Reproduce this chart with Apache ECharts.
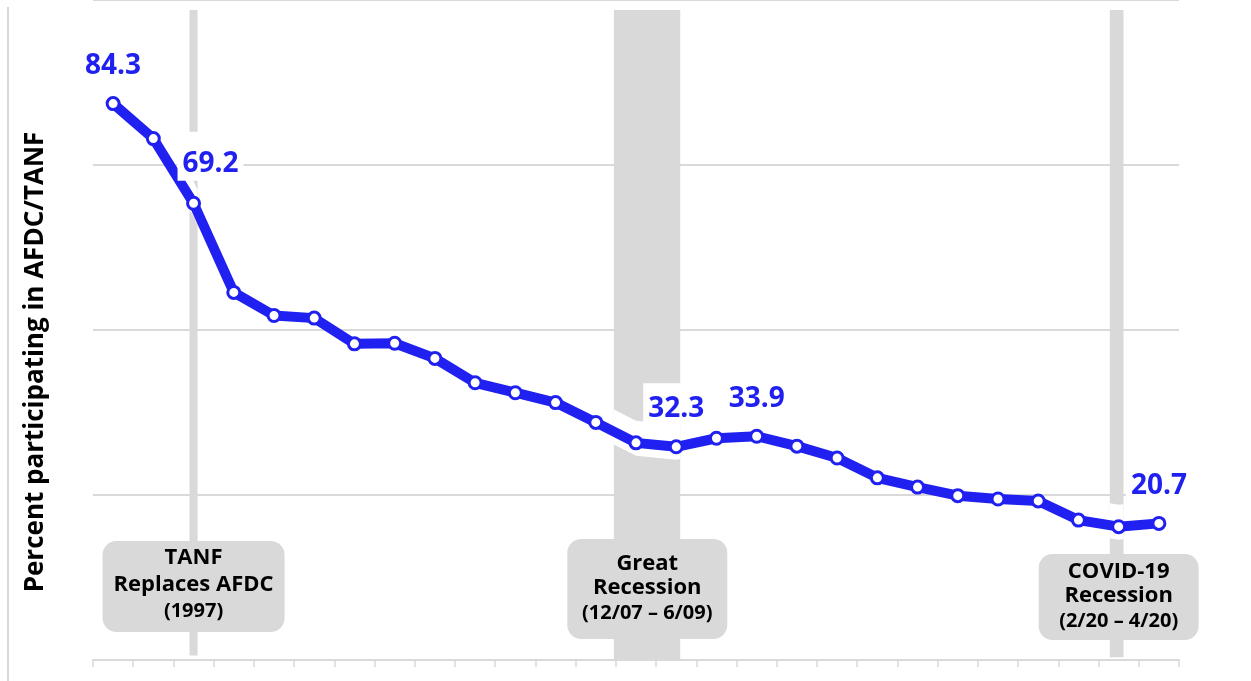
<!DOCTYPE html>
<html>
<head>
<meta charset="utf-8">
<script src="https://cdn.jsdelivr.net/npm/echarts@6/dist/echarts.min.js"></script>
<style>
  html, body { margin: 0; padding: 0; background: #fff; }
  #chart { width: 1251px; height: 681px; }
</style>
</head>
<body>
<div id="chart"></div>
<script>
const years = ['1995', '1996', '1997', '1998', '1999', '2000', '2001', '2002', '2003',
  '2004', '2005', '2006', '2007', '2008', '2009', '2010', '2011', '2012', '2013',
  '2014', '2015', '2016', '2017', '2018', '2019', '2020', '2021']
const participation = [84.3, 79.0, 69.2, 55.7, 52.2, 51.8, 47.9, 48.0, 45.7, 42.0,
  40.5, 39.0, 36.0, 32.9, 32.3, 33.6, 33.9, 32.4, 30.6, 27.6, 26.2, 24.9, 24.4,
  24.1, 21.2, 20.2, 20.7]
const labelled = [0, 2, 14, 16, 26]
const labelText = ['84.3', '69.2', '32.3', '33.9', '20.7']

// shaded event bands, in years (start, end, bottom value)
const bandStart = [1996.9, 2007.45, 2019.78]
const bandEnd = [1997.1, 2009.1, 2020.12]
const bandBottom = [0.7, 0, 0.4]
const bandTop = 98.5

const noteYear = [1997, 2008.28, 2020]
const noteLines = [
  ['TANF', 'Replaces AFDC', '(1997)'],
  ['Great', 'Recession', '(12/07 – 6/09)'],
  ['COVID-19', 'Recession', '(2/20 – 4/20)']
]

const BLUE = '#2020F0'
const GRAY = '#d9d9d9'
const FONT = '"Open Sans"'

const chart = echarts.init(document.getElementById('chart'))

function lineYAt(pts, x) {
  for (let i = 0; i < pts.length - 1; i++) {
    const a = pts[i], b = pts[i + 1]
    if (x >= a[0] && x <= b[0]) return a[1] + (b[1] - a[1]) * (x - a[0]) / (b[0] - a[0])
  }
  return pts[pts.length - 1][1]
}

function renderBand(params, api) {
  const [x0, y0] = api.coord([api.value(0), bandTop])
  const [x1, y1] = api.coord([api.value(1), api.value(2)])
  const pts = years.map((y, i) => api.coord([+y, participation[i]]))
  const xs = [x0]
  pts.forEach((p) => { if (p[0] > x0 && p[0] < x1) xs.push(p[0]) })
  xs.push(x1)
  const upper = xs.map((x) => [x, lineYAt(pts, x) - 22])
  const lower = xs.slice().reverse().map((x) => [x, lineYAt(pts, x) + 13])
  return {
    type: 'group',
    children: [
      { type: 'rect', shape: { x: x0, y: y0, width: x1 - x0, height: y1 - y0 }, style: { fill: GRAY } },
      { type: 'polygon', shape: { points: upper.concat(lower) }, style: { fill: '#fff' } }
    ]
  }
}

const lineData = participation.map((v, i) => {
  const k = labelled.indexOf(i)
  if (k < 0) return v
  return {
    value: v,
    label: {
      show: true,
      formatter: labelText[k],
      offset: i === 2 ? [17, -2] : [0, 0],
      padding: i === 2 ? [18, 5, 3, 5] : [12, 5, 3, 5]
    }
  }
})

chart.setOption({
  animation: false,
  grid: { left: 93, right: 72, top: -3, bottom: 21 },
  xAxis: [
    {
      type: 'category',
      data: years,
      boundaryGap: true,
      axisLine: { lineStyle: { color: GRAY, width: 2 } },
      axisTick: { show: true, length: 7, interval: 0, lineStyle: { color: GRAY, width: 1.5 } },
      axisLabel: { show: false }
    },
    { type: 'value', min: 1994.5, max: 2021.5, show: false }
  ],
  yAxis: {
    type: 'value',
    min: 0,
    max: 100,
    interval: 25,
    axisLine: { show: false },
    axisTick: { show: false },
    axisLabel: { show: false },
    splitLine: { lineStyle: { color: GRAY, width: 2 } }
  },
  series: [
    {
      type: 'custom',
      xAxisIndex: 1,
      z: 1,
      clip: false,
      renderItem: renderBand,
      data: bandStart.map((s, i) => [s, bandEnd[i], bandBottom[i]])
    },
    {
      type: 'line',
      z: 3,
      data: lineData,
      symbol: 'circle',
      symbolSize: 12,
      lineStyle: { color: BLUE, width: 10 },
      itemStyle: { color: '#fff', borderColor: BLUE, borderWidth: 3 },
      label: {
        show: false,
        position: 'top',
        distance: 13,
        color: BLUE,
        fontFamily: 'Open Sans',
        fontWeight: 'bold',
        fontSize: 28,
        backgroundColor: '#fff'
      },
      emphasis: { disabled: true }
    }
  ]
})

// annotation boxes, centred on the event they describe
const boxSize = [[182, 91, 541], [160, 100, 539], [160, 86, 554]]
const lineGap = [[17, 44, 70], [25, 49, 74], [18, 42, 67]]
const graphics = [
  { type: 'line', z: 0, shape: { x1: 8, y1: 7, x2: 8, y2: 681 }, style: { stroke: GRAY, lineWidth: 2 } },
  {
    type: 'text', z: 10, x: 36, y: 362, rotation: Math.PI / 2,
    style: { text: 'Percent participating in AFDC/TANF', fill: '#000', font: 'bold 26px ' + FONT, textAlign: 'center', textVerticalAlign: 'middle' }
  }
]
noteYear.forEach((yr, i) => {
  const cx = chart.convertToPixel({ xAxisIndex: 1 }, yr)
  const [w, h, top] = boxSize[i]
  graphics.push({ type: 'rect', z: 10, shape: { x: cx - w / 2, y: top, width: w, height: h, r: 14 }, style: { fill: GRAY } })
  noteLines[i].forEach((t, j) => {
    graphics.push({
      type: 'text', z: 11, x: cx, y: top + lineGap[i][j],
      style: { text: t, fill: '#000', font: 'bold ' + (j === 2 ? 20 : 22) + 'px ' + FONT, textAlign: 'center', textVerticalAlign: 'middle' }
    })
  })
})
chart.setOption({ graphic: graphics })

window.addEventListener('resize', () => chart.resize())
</script>
</body>
</html>
